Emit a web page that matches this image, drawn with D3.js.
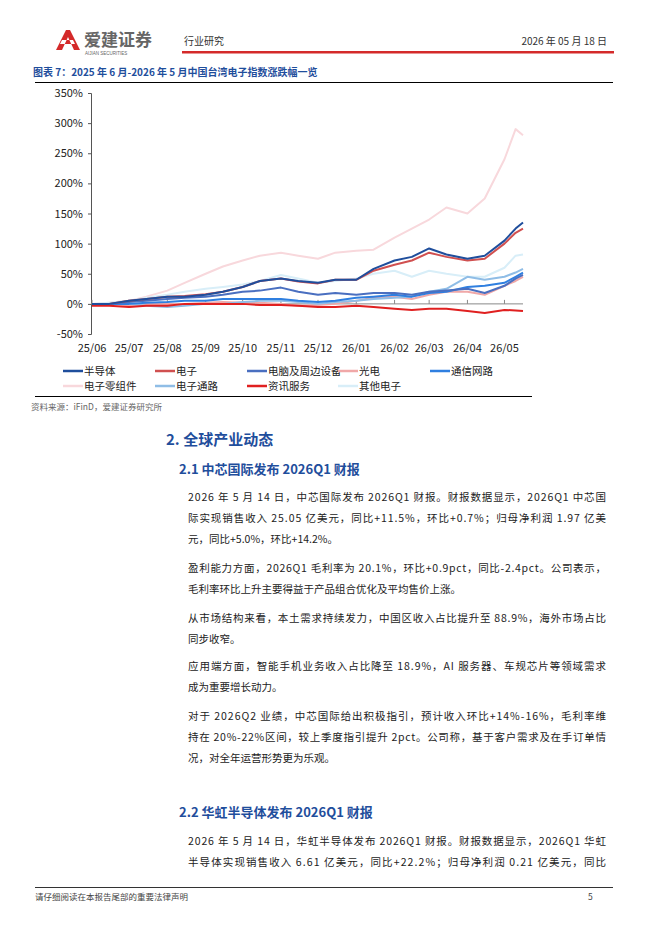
<!DOCTYPE html><html><head><meta charset="utf-8"><script src="https://cdn.jsdelivr.net/npm/d3@7"></script>
<style>body{margin:0;background:#fff;font-family:"Noto Sans CJK SC","Noto Sans",sans-serif}</style></head><body>
<svg id="s" width="662" height="936"></svg>
<script>
const dates=["2025-06-01","2025-06-15","2025-07-01","2025-07-15","2025-08-01","2025-08-15","2025-09-01","2025-09-15","2025-10-01","2025-10-15","2025-11-01","2025-11-15","2025-12-01","2025-12-15","2026-01-01","2026-01-15","2026-02-01","2026-02-15","2026-03-01","2026-03-15","2026-04-01","2026-04-15","2026-05-01","2026-05-10","2026-05-16"];
const tickLabels=["25/06","25/07","25/08","25/09","25/10","25/11","25/12","26/01","26/02","26/03","26/04","26/05"];
const yTicks=[-50,0,50,100,150,200,250,300,350];
const names=["半导体","电子","电脑及周边设备","光电","通信网路","电子零组件","电子通路","资讯服务","其他电子"];
const colors=["#1f4e9c","#d05050","#4a6fc0","#f0a8a8","#2f7fe0","#f8d8dc","#8fbde6","#e02020","#d8eef8"];
const v0=[0,0,5,8,12,12,15,20,28,38,42,38,35,40,40,58,72,78,92,82,75,80,105,125,135];
const v1=[0,0,5,8,12,13,16,20,28,38,42,37,34,40,40,55,65,72,85,78,72,75,100,118,125];
const v2=[0,0,3,5,8,10,12,15,20,22,27,20,15,18,15,18,18,15,20,22,25,18,30,42,48];
const v3=[0,0,-2,0,0,0,2,3,2,2,0,-3,-2,0,5,10,12,8,15,20,20,15,30,38,45];
const v4=[0,0,0,2,3,5,5,8,8,8,8,5,3,5,10,12,15,12,18,20,28,30,35,45,52];
const v5=[0,2,5,12,22,35,50,62,72,80,85,80,75,85,88,90,110,125,140,160,150,175,240,290,280];
const v6=[0,0,0,-3,-5,-3,0,0,3,5,5,3,0,3,5,8,10,12,20,25,45,40,45,52,58];
const v7=[-3,-3,-5,-3,-3,0,0,0,0,-2,-2,-3,-5,-5,-3,-5,-8,-10,-8,-8,-12,-15,-10,-11,-12];
const v8=[0,2,5,10,15,20,25,28,32,38,48,42,35,38,42,50,55,45,55,50,45,45,60,80,82];
const series=[v0,v1,v2,v3,v4,v5,v6,v7,v8];
const svg=d3.select("#s");
const F='"Noto Sans CJK SC",sans-serif';
svg.append("path").attr("d","M56,50 L66,30 L70,30 L80,50 L74,50 L68,37 L62,50Z M60,44 L75,44 L73,40 L62,40Z").attr("fill","#d42a2a");
svg.append("text").attr("x",84).attr("y",46).text("爱建证券").attr("font-size",17).attr("font-weight","bold").attr("fill","#666").attr("font-family",F);
svg.append("text").attr("x",85).attr("y",55).text("AIJIAN SECURITIES").attr("font-size",4.5).attr("fill","#666").attr("font-family","Liberation Sans");
svg.append("text").attr("x",184).attr("y",45).text("行业研究").attr("font-size",10).attr("fill","#333").attr("font-family",F);
svg.append("text").attr("x",607).attr("y",45).attr("text-anchor","end").text("2026 年 05 月 18 日").attr("font-size",10).attr("fill","#333").attr("font-family",F);
svg.append("rect").attr("x",182).attr("y",51).attr("width",432).attr("height",2.5).attr("fill","#d42a2a");
svg.append("text").attr("x",33).attr("y",76).text("图表 7：2025 年 6 月-2026 年 5 月中国台湾电子指数涨跌幅一览").attr("font-size",10).attr("font-weight","bold").attr("fill","#1f4e9c").attr("font-family",F);
svg.append("rect").attr("x",35).attr("y",82).attr("width",578).attr("height",1).attr("fill","#000");
const x=d3.scaleTime().domain([new Date("2025-06-01"),new Date("2026-05-16")]).range([92,523]);
const y=d3.scaleLinear().domain([-50,350]).range([334,93]);
const ya=svg.append("g").attr("transform","translate(91,0)").call(d3.axisLeft(y).tickValues(yTicks).tickFormat(d=>d+"%").tickSize(3));
ya.selectAll("text").attr("font-size",11).attr("fill","#222").attr("font-family",F).attr("dx",-2);
ya.select(".domain").attr("stroke","#555");ya.selectAll("line").attr("stroke","#555");
const tm=d3.range(12).map(i=>new Date(2025,5+i,1));
svg.append("line").attr("x1",91).attr("x2",523).attr("y1",y(0)).attr("y2",y(0)).attr("stroke","#888");
svg.selectAll(".tk").data(tm).join("line").attr("x1",d=>x(d)).attr("x2",d=>x(d)).attr("y1",y(0)).attr("y2",y(0)-4).attr("stroke","#888");
svg.selectAll(".tl").data(tickLabels).join("text").attr("x",(d,i)=>x(tm[i])).attr("y",352).attr("text-anchor","middle").text(d=>d).attr("font-size",11).attr("fill","#222").attr("font-family",F);
const line=d3.line().x((d,i)=>x(new Date(dates[i]))).y(d=>y(d));
const order=[5,8,3,6,4,2,7,1,0];
order.forEach(k=>svg.append("path").attr("d",line(series[k])).attr("fill","none").attr("stroke",colors[k]).attr("stroke-width",2).attr("stroke-linejoin","round"));
const lx=[63,155,247,338,430],ly=[371,386];
names.forEach((n,i)=>{const c=i%5,r=Math.floor(i/5);
svg.append("line").attr("x1",lx[c]).attr("x2",lx[c]+20).attr("y1",ly[r]).attr("y2",ly[r]).attr("stroke",colors[i]).attr("stroke-width",2.5);
svg.append("text").attr("x",lx[c]+21).attr("y",ly[r]+4).text(n).attr("font-size",10.5).attr("fill","#222").attr("font-family",F);});
svg.append("rect").attr("x",35).attr("y",396).attr("width",497).attr("height",1).attr("fill","#000");
svg.append("text").attr("x",31).attr("y",410).text("资料来源：iFinD，爱建证券研究所").attr("font-size",8.5).attr("fill","#666").attr("font-family",F);
svg.append("text").attr("x",166).attr("y",445).text("2.  全球产业动态").attr("font-size",15).attr("font-weight","bold").attr("fill","#1f4e9c").attr("font-family",F);
svg.append("text").attr("x",179).attr("y",474).text("2.1  中芯国际发布 2026Q1 财报").attr("font-size",13).attr("font-weight","bold").attr("fill","#1f4e9c").attr("font-family",F);
svg.append("text").attr("x",179).attr("y",817).text("2.2  华虹半导体发布 2026Q1 财报").attr("font-size",13).attr("font-weight","bold").attr("fill","#1f4e9c").attr("font-family",F);
const body=[[501,"2026 年 5 月 14 日，中芯国际发布 2026Q1 财报。财报数据显示，2026Q1 中芯国"],[522,"际实现销售收入 25.05 亿美元，同比+11.5%，环比+0.7%；归母净利润 1.97 亿美"],[543,"元，同比+5.0%，环比+14.2%。"],
[572,"盈利能力方面，2026Q1 毛利率为 20.1%，环比+0.9pct，同比-2.4pct。公司表示，"],[593,"毛利率环比上升主要得益于产品组合优化及平均售价上涨。"],
[622,"从市场结构来看，本土需求持续发力，中国区收入占比提升至 88.9%，海外市场占比"],[643,"同步收窄。"],
[670,"应用端方面，智能手机业务收入占比降至 18.9%，AI 服务器、车规芯片等领域需求"],[691,"成为重要增长动力。"],
[720,"对于 2026Q2 业绩，中芯国际给出积极指引，预计收入环比+14%-16%，毛利率维"],[741,"持在 20%-22%区间，较上季度指引提升 2pct。公司称，基于客户需求及在手订单情"],[762,"况，对全年运营形势更为乐观。"],
[845,"2026 年 5 月 14 日，华虹半导体发布 2026Q1 财报。财报数据显示，2026Q1 华虹"],[866,"半导体实现销售收入 6.61 亿美元，同比+22.2%；归母净利润 0.21 亿美元，同比"]];
body.forEach(([yy,t])=>svg.append("text").attr("x",188).attr("y",yy).text(t).attr("font-size",10.5).attr("fill","#222").attr("font-family",F).attr("textLength",t.length>30?418:null).attr("lengthAdjust","spacing"));
svg.append("rect").attr("x",35).attr("y",887).attr("width",578).attr("height",0.8).attr("fill","#000");
svg.append("text").attr("x",35).attr("y",900).text("请仔细阅读在本报告尾部的重要法律声明").attr("font-size",8.5).attr("fill","#444").attr("font-family",F);
svg.append("text").attr("x",588).attr("y",900).text("5").attr("font-size",8.5).attr("fill","#444").attr("font-family",F);
</script></body></html>
